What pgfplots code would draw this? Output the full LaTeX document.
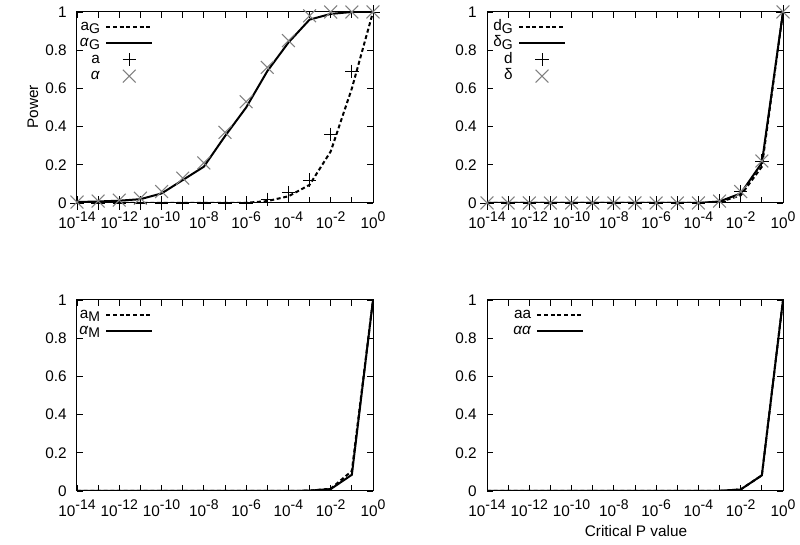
\documentclass[border=0pt]{standalone}
\usepackage{fontspec}
\setmainfont{Liberation Sans}
\usepackage{pgfplots}
\pgfplotsset{compat=1.18}
\usepackage{pgfplotstable}

\newcommand{\sps}[1]{\raisebox{0.45em}{\fontsize{10.5}{11}\selectfont #1}}
\newcommand{\sbs}[1]{\raisebox{-0.2em}{\fontsize{10.5}{11}\selectfont #1}}
\newcommand{\myfont}{\fontsize{11.5}{14}\selectfont}

\pgfplotstableread{
x aG alphaG a alpha
1e-14 0 0.005 0 0.005
1e-13 0 0.008 0 0.01
1e-12 0 0.012 0 0.015
1e-11 0 0.02 0 0.025
1e-10 0 0.05 0 0.06
1e-9 0 0.12 0 0.13
1e-8 0 0.19 0 0.21
1e-7 0 0.35 0 0.37
1e-6 0.001 0.50 0 0.53
1e-5 0.01 0.69 0.02 0.71
1e-4 0.035 0.84 0.055 0.85
1e-3 0.095 0.96 0.12 0.98
1e-2 0.27 0.99 0.36 1.0
1e-1 0.60 1.0 0.69 1.0
1 1.0 1.0 1.0 1.0
}\tltable

\pgfplotstableread{
x dG deltaG d delta
1e-14 0 0 0 0
1e-13 0 0 0 0
1e-12 0 0 0 0
1e-11 0 0 0 0
1e-10 0 0 0 0
1e-9 0 0 0 0
1e-8 0 0 0 0
1e-7 0 0 0 0
1e-6 0 0 0 0
1e-5 0 0 0 0
1e-4 0 0 0 0
1e-3 0.005 0.008 0.01 0.01
1e-2 0.04 0.05 0.06 0.06
1e-1 0.19 0.21 0.22 0.22
1 1 1 1 1
}\trtable

\pgfplotstableread{
x aM alphaM
1e-14 0 0
1e-13 0 0
1e-12 0 0
1e-11 0 0
1e-10 0 0
1e-9 0 0
1e-8 0 0
1e-7 0 0
1e-6 0 0
1e-5 0 0
1e-4 0 0
1e-3 0.002 0.002
1e-2 0.012 0.01
1e-1 0.105 0.085
1 1 1
}\bltable

\pgfplotstableread{
x aa alphaalpha
1e-14 0 0
1e-13 0 0
1e-12 0 0
1e-11 0 0
1e-10 0 0
1e-9 0 0
1e-8 0 0
1e-7 0 0
1e-6 0 0
1e-5 0 0
1e-4 0 0
1e-3 0.001 0.001
1e-2 0.008 0.008
1e-1 0.082 0.082
1 1 1
}\brtable

\pgfplotsset{
  every axis/.append style={
    xmode=log, width=222pt, height=143.25pt, scale only axis,
    xmin=1e-14, xmax=1, ymin=0, ymax=1,
    font=\myfont,
    tick label style={font=\myfont},
    xtick={1e-14,1e-13,1e-12,1e-11,1e-10,1e-9,1e-8,1e-7,1e-6,1e-5,1e-4,1e-3,1e-2,1e-1,1},
    xticklabels={{10\sps{-14}},{},{10\sps{-12}},{},{10\sps{-10}},{},{10\sps{-8}},{},{10\sps{-6}},{},{10\sps{-4}},{},{10\sps{-2}},{},{10\sps{0}}},
    ytick={0,0.2,0.4,0.6,0.8,1},
    yticklabels={0,0.2,0.4,0.6,0.8,1},
    xminorticks=false, yminorticks=false,
    major tick length=4.5pt,
    tick style={black, line width=0.6pt},
    axis line style={line width=0.75pt},
    yticklabel style={xshift=-3.7pt},
    xticklabel style={yshift=-2.5pt},
    legend plot pos=right, legend cell align=right,
    legend style={draw=none, fill=none, at={(0,1)}, anchor=north west,
      yshift=-5pt, inner sep=0pt, font=\myfont,
      nodes={inner sep=1pt, text height=7.75pt, text depth=2.5pt},
      /tikz/every odd column/.append style={column sep=3pt}},
    legend image code/.code={\draw[##1] (0pt,0pt) -- (34.5pt,0pt);},
  },
  marklegend/.style={legend image code/.code={\draw[mark repeat=2,mark phase=2,##1] plot coordinates {(0pt,0pt) (17.25pt,0pt) (34.5pt,0pt)};}},
}

\begin{document}
\myfont
\begin{tikzpicture}[font=\myfont]
\path[use as bounding box] (0pt,0pt) rectangle (600pt,408.75pt);

% top left
\begin{axis}[at={(57.75pt,256.5pt)}, anchor=south west, legend style={xshift=1pt}]
\addplot[black, line width=1.5pt, dash pattern=on 3pt off 2pt, no marks] table[x=x,y=aG] {\tltable};
\addlegendentry{a\sbs{G}}
\addplot[black, line width=1.5pt, no marks] table[x=x,y=alphaG] {\tltable};
\addlegendentry{\textit{α}\sbs{G}}
\addplot[black, only marks, mark=+, mark size=5pt, line width=0.6pt, marklegend] table[x=x,y=a] {\tltable};
\addlegendentry{a}
\addplot[black!50, only marks, mark=x, mark size=6.8pt, line width=0.8pt, marklegend] table[x=x,y=alpha] {\tltable};
\addlegendentry{\textit{α}}
\end{axis}

% top right
\begin{axis}[at={(365.25pt,256.5pt)}, anchor=south west, legend style={xshift=3.5pt}]
\addplot[black, line width=1.5pt, dash pattern=on 3pt off 2pt, no marks] table[x=x,y=dG] {\trtable};
\addlegendentry{d\sbs{G}}
\addplot[black, line width=1.5pt, no marks] table[x=x,y=deltaG] {\trtable};
\addlegendentry{δ\sbs{G}}
\addplot[black, only marks, mark=+, mark size=5pt, line width=0.6pt, marklegend] table[x=x,y=d] {\trtable};
\addlegendentry{d}
\addplot[black!50, only marks, mark=x, mark size=6.8pt, line width=0.8pt, marklegend] table[x=x,y=delta] {\trtable};
\addlegendentry{δ}
\end{axis}

% bottom left
\begin{axis}[at={(57.75pt,40.5pt)}, anchor=south west, legend style={xshift=0.5pt}]
\addplot[black, line width=1.5pt, dash pattern=on 3pt off 2pt, no marks] table[x=x,y=aM] {\bltable};
\addlegendentry{a\sbs{M}}
\addplot[black, line width=1.5pt, no marks] table[x=x,y=alphaM] {\bltable};
\addlegendentry{\textit{α}\sbs{M}}
\end{axis}

% bottom right
\begin{axis}[at={(365.25pt,40.5pt)}, anchor=south west, legend style={xshift=18.5pt}]
\addplot[black, line width=1.5pt, dash pattern=on 3pt off 2pt, no marks] table[x=x,y=aa] {\brtable};
\addlegendentry{aa}
\addplot[black, line width=1.5pt, no marks] table[x=x,y=alphaalpha] {\brtable};
\addlegendentry{\textit{αα}}
\end{axis}

\node[rotate=90] at (24.75pt,328.5pt) {Power};
\node at (477pt,10.5pt) {Critical P value};
\end{tikzpicture}
\end{document}
